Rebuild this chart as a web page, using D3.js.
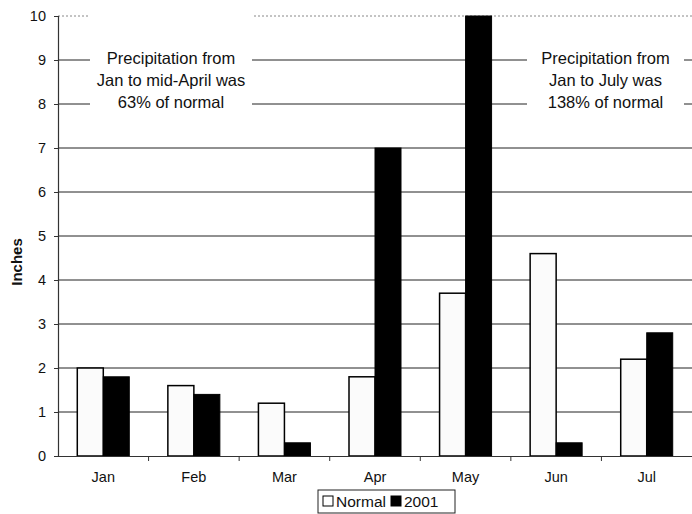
<!DOCTYPE html>
<html><head><meta charset="utf-8">
<script src="https://cdn.jsdelivr.net/npm/d3@7"></script>
<style>body{margin:0;background:#fff}svg{display:block;font-family:"Liberation Sans",Arial,sans-serif}</style>
</head><body><svg id="c" width="692" height="514"></svg>
<script>
const months = ["Jan","Feb","Mar","Apr","May","Jun","Jul"];
const normal = [2.0,1.6,1.2,1.8,3.7,4.6,2.2];
const y2001  = [1.8,1.4,0.3,7.0,10.0,0.3,2.8];
const yTicks = [0,1,2,3,4,5,6,7,8,9,10];
const seriesNames = ["Normal","2001"];
const notes = [
  ["Precipitation from","Jan to mid-April was","63% of normal"],
  ["Precipitation from","Jan to July was","138% of normal"]
];

const svg = d3.select("#c");
const L = 58, R = 692, T = 16, B = 456;
const x = d3.scaleBand().domain(months).range([L, R]);
const y = d3.scaleLinear().domain([0,10]).range([B, T]);
const bw = 26;

// gridlines
svg.append("g").selectAll("line").data(yTicks.filter(d=>d>0)).join("line")
  .attr("x1", L).attr("x2", R).attr("y1", d=>y(d)).attr("y2", d=>y(d))
  .attr("stroke", d=>d===10?"#888":"#222").attr("stroke-width",1)
  .attr("stroke-dasharray", d=>d===10?"2,2":null);

// annotation boxes (white background hides gridlines)
const boxes = [{x0:90,x1:252,y0:8,y1:116},{x0:527,x1:684,y0:30,y1:116}];
notes.forEach((lines,i)=>{
  const b = boxes[i];
  svg.append("rect").attr("x",b.x0).attr("y",b.y0).attr("width",b.x1-b.x0).attr("height",b.y1-b.y0).attr("fill","#fff");
  const cx = (b.x0+b.x1)/2;
  svg.append("text").attr("x",cx).attr("y",64).attr("text-anchor","middle")
    .attr("font-size",16.5).attr("fill","#111")
    .selectAll("tspan").data(lines).join("tspan").attr("x",cx).attr("dy",(d,j)=>j?22:0).text(d=>d);
});

// bars
const g = svg.append("g");
months.forEach((m,i)=>{
  const c = x(m)+x.bandwidth()/2;
  g.append("rect").attr("x",c-bw).attr("y",y(normal[i])).attr("width",bw).attr("height",B-y(normal[i]))
    .attr("fill","#fbfbfb").attr("stroke","#000").attr("stroke-width",1.5);
  g.append("rect").attr("x",c).attr("y",y(y2001[i])).attr("width",bw).attr("height",B-y(y2001[i]))
    .attr("fill","#000").attr("stroke","#000").attr("stroke-width",1);
});

// axes
const ya = svg.append("g").attr("transform",`translate(${L},0)`)
  .call(d3.axisLeft(y).tickValues(yTicks).tickFormat(d3.format("d")).tickSize(4).tickPadding(8));
ya.select(".domain").attr("stroke","#333").attr("stroke-width",1.2);
ya.selectAll("text").attr("font-size",14.5).attr("fill","#111").attr("font-family","Liberation Sans, Arial, sans-serif");
ya.selectAll(".tick line").attr("stroke","#333");

const xa = svg.append("g").attr("transform",`translate(0,${B})`)
  .call(d3.axisBottom(x).tickSize(0).tickPadding(16));
xa.select(".domain").attr("stroke","#333").attr("stroke-width",1.2);
xa.selectAll("text").attr("font-size",14.5).attr("fill","#111").attr("font-family","Liberation Sans, Arial, sans-serif");
// category separator ticks
svg.append("g").selectAll("line").data(months.slice(1)).join("line")
  .attr("x1",d=>x(d)).attr("x2",d=>x(d)).attr("y1",B).attr("y2",B+5).attr("stroke","#333");

// y title
svg.append("text").attr("transform","translate(22,262) rotate(-90)").attr("text-anchor","middle")
  .attr("font-size",15).attr("font-weight","bold").attr("fill","#111").text("Inches");

// legend
const lg = svg.append("g").attr("transform","translate(318,490)");
lg.append("rect").attr("x",0).attr("y",0).attr("width",137).attr("height",23).attr("fill","#fff").attr("stroke","#222");
const items = [{n:seriesNames[0],f:"#fff",x:5},{n:seriesNames[1],f:"#000",x:73}];
items.forEach(it=>{
  lg.append("rect").attr("x",it.x).attr("y",6).attr("width",10).attr("height",10).attr("fill",it.f).attr("stroke","#000");
  lg.append("text").attr("x",it.x+13).attr("y",17).attr("font-size",15.5).attr("fill","#111").text(it.n);
});
</script></body></html>
